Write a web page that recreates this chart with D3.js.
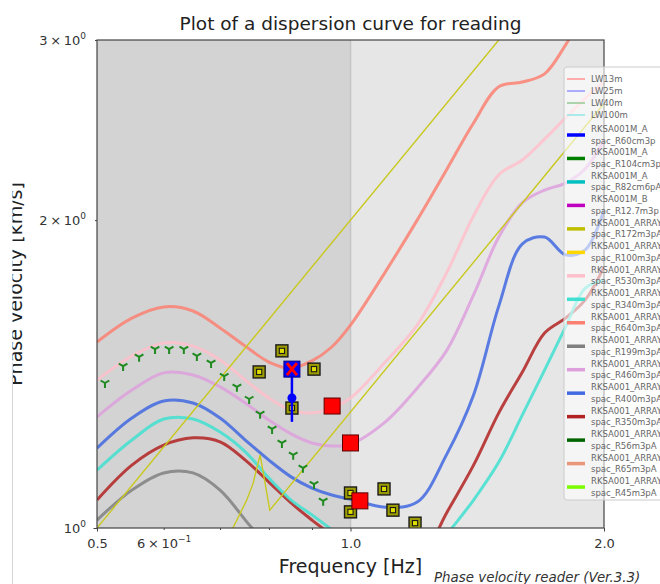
<!DOCTYPE html>
<html><head><meta charset="utf-8">
<script src="https://cdn.jsdelivr.net/npm/d3@7/dist/d3.min.js"></script>
<style>body{margin:0;background:#fff;} svg{display:block;font-family:"DejaVu Sans",sans-serif;}</style>
</head><body><svg id="c" width="660" height="584"></svg>
<script>
// ---------- data ----------
const freqs   = [0.5,0.55,0.6,0.65,0.7,0.75,0.8,0.85,0.9,0.95,1.0,1.1,1.2,1.3,1.4,1.5,1.6,1.7,1.8,1.9,2.0];
const velR640 = [1.520,1.604,1.645,1.630,1.569,1.506,1.453,1.433,1.457,1.503,1.579,1.780,2.000,2.239,2.489,2.700,2.729,2.780,2.966,3.200,3.400];
const velR530 = [1.395,1.473,1.517,1.506,1.460,1.395,1.340,1.304,1.296,1.310,1.340,1.453,1.579,1.775,2.019,2.215,2.290,2.400,2.517,2.630,2.730];
const velR460 = [1.284,1.364,1.418,1.411,1.374,1.325,1.275,1.236,1.211,1.203,1.208,1.270,1.370,1.490,1.690,1.925,2.080,2.140,2.174,2.245,2.395];
const velR400 = [1.197,1.281,1.331,1.325,1.281,1.219,1.165,1.122,1.094,1.077,1.067,1.048,1.060,1.179,1.349,1.648,1.896,1.925,1.850,1.870,2.046];
const velR340 = [1.139,1.219,1.278,1.278,1.241,1.187,1.119,1.065,1.030,0.996,0.962,0.910,0.900,0.984,1.065,1.160,1.290,1.427,1.572,1.716,1.748];
const velR350 = [1.065,1.152,1.205,1.225,1.214,1.165,1.109,1.058,1.018,0.984,0.952,0.900,0.920,1.034,1.152,1.296,1.421,1.551,1.604,1.671,1.800];
const freqR199 = [0.5,0.55,0.6,0.65,0.7,0.75,0.8,0.85];
const velR199  = [1.018,1.089,1.132,1.132,1.089,1.018,0.952,0.870];

const freqR172a = [0.5,1.5];
const velR172a  = [1.0,3.0];
const freqR172b = [0.715,0.725,0.753,0.766,0.781,0.802,2.0];
const velR172b  = [0.97,1.0,1.065,1.105,1.179,1.041,2.6];

const triFreq = [0.511,0.537,0.561,0.586,0.609,0.634,0.657,0.683,0.708,0.733,0.758,0.781,0.807,0.829,0.855,0.878,0.905,0.928];
const triVel  = [1.386,1.440,1.470,1.496,1.496,1.496,1.473,1.450,1.408,1.374,1.337,1.293,1.250,1.211,1.179,1.145,1.104,1.063];

const sqFreq = [0.829,0.779,0.905,0.852,1.0,1.0,1.096,1.123,1.193];
const sqVel  = [1.490,1.421,1.430,1.310,1.082,1.037,1.092,1.041,1.011];

const redFreq = [0.951,1.0,1.026];
const redVel  = [1.316,1.211,1.063];

const blueFreq = [0.852];
const blueVel  = [1.430];
const blueMean = [1.340];
const blueLow  = [1.270];

const legendTop = ["LW13m","LW25m","LW40m","LW100m"];
const legendTopColors = ["#ff9a9a","#9a9aff","#9acc9a","#9ae6e6"];
const legendNames = [
 ["RKSA001M_A","spac_R60cm3p"],["RKSA001M_A","spac_R104cm3p"],["RKSA001M_A","spac_R82cm6pA"],
 ["RKSA001M_B","spac_R12.7m3p"],["RKSA001_ARRAY","spac_R172m3pA"],["RKSA001_ARRAY","spac_R100m3pA"],
 ["RKSA001_ARRAY","spac_R530m3pA"],["RKSA001_ARRAY","spac_R340m3pA"],["RKSA001_ARRAY","spac_R640m3pA"],
 ["RKSA001_ARRAY","spac_R199m3pA"],["RKSA001_ARRAY","spac_R460m3pA"],["RKSA001_ARRAY","spac_R400m3pA"],
 ["RKSA001_ARRAY","spac_R350m3pA"],["RKSA001_ARRAY","spac_R56m3pA"],["RKSA001_ARRAY","spac_R65m3pA"],
 ["RKSA001_ARRAY","spac_R45m3pA"]];
const legendColors = ["#0000ff","#008000","#00bfbf","#bf00bf","#bfbf00","#ffd700","#ffc0cb","#40e0d0",
 "#fa8072","#808080","#dda0dd","#4169e1","#b22222","#006400","#e9967a","#7cfc00"];

const xMajor = [0.5,1.0,2.0], xMajorLabels = ["0.5","1.0","2.0"];
const xMinor = [0.6,0.7,0.8,0.9];
const yMajor = [1], yMinor = [2,3];

// ---------- chart ----------
const svg = d3.select("#c");
const x = d3.scaleLog().domain([0.5,2]).range([97,604]);
const y = d3.scaleLog().domain([1,3]).range([528,40]);

svg.append("defs").append("clipPath").attr("id","plot")
  .append("rect").attr("x",97).attr("y",40).attr("width",507).attr("height",488);
svg.select("defs").append("clipPath").attr("id","ylab")
  .append("rect").attr("x",12.5).attr("y",0).attr("width",660).attr("height",584);

// backgrounds
svg.append("rect").attr("x",x(0.5)).attr("y",y(3)).attr("width",x(1)-x(0.5)).attr("height",y(1)-y(3)).attr("fill","#d3d3d3");
svg.append("rect").attr("x",x(1)).attr("y",y(3)).attr("width",x(2)-x(1)).attr("height",y(1)-y(3)).attr("fill","#e6e6e6");
svg.append("line").attr("x1",x(1)).attr("x2",x(1)).attr("y1",y(3)).attr("y2",y(1)).attr("stroke","#c4c4c4").attr("stroke-width",1.5);

const g = svg.append("g").attr("clip-path","url(#plot)");
const line = d3.line().x(d=>x(d[0])).y(d=>y(d[1])).curve(d3.curveCatmullRom.alpha(0.5));
const straight = d3.line().x(d=>x(d[0])).y(d=>y(d[1]));

const curves = [
  [freqR199, velR199, "#808080"],
  [freqs, velR350, "#b22222"],
  [freqs, velR340, "#40e0d0"],
  [freqs, velR400, "#4169e1"],
  [freqs, velR460, "#dda0dd"],
  [freqs, velR530, "#ffc0cb"],
  [freqs, velR640, "#fa8072"]
];
curves.forEach(([f,v,c])=>{
  g.append("path").datum(f.map((ff,i)=>[ff,v[i]])).attr("d",line)
   .attr("fill","none").attr("stroke",c).attr("stroke-width",3).attr("stroke-opacity",0.85);
});
[[freqR172a,velR172a],[freqR172b,velR172b]].forEach(([f,v])=>{
  g.append("path").datum(f.map((ff,i)=>[ff,v[i]])).attr("d",straight)
   .attr("fill","none").attr("stroke","#c8c81e").attr("stroke-width",1.4);
});

// tri_down markers
const r = 5;
const triPath = `M0,0L0,${r}M0,0L${-0.866*r},${-0.5*r}M0,0L${0.866*r},${-0.5*r}`;
g.selectAll(".tri").data(triFreq.map((f,i)=>[f,triVel[i]])).enter().append("path")
  .attr("transform",d=>`translate(${x(d[0])},${y(d[1])})`).attr("d",triPath)
  .attr("stroke","#1f8a1f").attr("stroke-width",2).attr("fill","none");

// olive squares
const sq = g.selectAll(".sq").data(sqFreq.map((f,i)=>[f,sqVel[i]])).enter().append("g")
  .attr("transform",d=>`translate(${x(d[0])},${y(d[1])})`);
sq.append("rect").attr("x",-6).attr("y",-6).attr("width",12).attr("height",12)
  .attr("fill","#9c9c00").attr("stroke","#1a1a1a").attr("stroke-width",1.4);
sq.append("rect").attr("x",-2.6).attr("y",-2.6).attr("width",5.2).attr("height",5.2)
  .attr("fill","#e0e000").attr("stroke","#1a1a1a").attr("stroke-width",1.1);

// red squares
g.selectAll(".red").data(redFreq.map((f,i)=>[f,redVel[i]])).enter().append("rect")
  .attr("x",d=>x(d[0])-8).attr("y",d=>y(d[1])-8).attr("width",16).attr("height",16)
  .attr("fill","#ff0000").attr("stroke","#5a0000").attr("stroke-width",1);

// blue marker with error bar
blueFreq.forEach((f,i)=>{
  const cx = x(f);
  g.append("line").attr("x1",cx).attr("x2",cx).attr("y1",y(blueVel[i])).attr("y2",y(blueLow[i]))
   .attr("stroke","#0000ff").attr("stroke-width",2.5);
  g.append("circle").attr("cx",cx).attr("cy",y(blueMean[i])).attr("r",4.5).attr("fill","#0000ff");
  g.append("rect").attr("x",cx-8).attr("y",y(blueVel[i])-8).attr("width",16).attr("height",16)
   .attr("fill","#0000ff").attr("stroke","#00008a").attr("stroke-width",1);
  const cy = y(blueVel[i]);
  g.append("path").attr("d",`M${cx-5},${cy-6}L${cx+5},${cy+6}M${cx+5},${cy-6}L${cx-5},${cy+6}`)
   .attr("stroke","#ff0000").attr("stroke-width",3);
});

// spines
svg.append("rect").attr("x",97).attr("y",40).attr("width",507).attr("height",488)
  .attr("fill","none").attr("stroke","#444").attr("stroke-width",1.2);

// axes
function styleAxis(sel){ sel.select(".domain").remove(); sel.selectAll("line").attr("stroke","#444");
  sel.selectAll("text").attr("fill","#333").style("font-size","13px").style("font-family","DejaVu Sans"); }
const xa = svg.append("g").attr("transform","translate(0,528)")
  .call(d3.axisBottom(x).tickValues(xMajor).tickSize(3.5).tickFormat((d,i)=>xMajorLabels[i]));
styleAxis(xa); xa.selectAll("text").attr("y",20).attr("dy",0);
const xm = svg.append("g").attr("transform","translate(0,528)")
  .call(d3.axisBottom(x).tickValues(xMinor).tickSize(2).tickFormat(d=>d===0.6?"6":""));
styleAxis(xm); xm.selectAll("text").attr("y",20).attr("dy",0);
xm.selectAll("text").filter(d=>d===0.6).each(function(){
  const t=d3.select(this); t.text("");
  t.append("tspan").text("6\u2009×\u200910");
  t.append("tspan").attr("dy",-6).style("font-size","9px").text("\u22121");
});
function yLabel(sel){
  sel.selectAll("text").attr("x",-11).attr("dy","0.35em").each(function(d){
    const t=d3.select(this); t.text("");
    t.append("tspan").text((d===1?"":d+"\u2009×\u2009")+"10");
    t.append("tspan").attr("dy",-6).style("font-size","9px").text("0");
  });
}
const ya = svg.append("g").attr("transform","translate(97,0)").call(d3.axisLeft(y).tickValues(yMajor).tickSize(3.5));
styleAxis(ya); yLabel(ya);
const ym = svg.append("g").attr("transform","translate(97,0)").call(d3.axisLeft(y).tickValues(yMinor).tickSize(2));
styleAxis(ym); yLabel(ym);

// titles
svg.append("text").attr("x",350.5).attr("y",30).attr("text-anchor","middle").attr("fill","#222")
  .style("font-size","18.5px").text("Plot of a dispersion curve for reading");
svg.append("text").attr("x",350.5).attr("y",573).attr("text-anchor","middle").attr("fill","#222")
  .style("font-size","19px").text("Frequency [Hz]");
svg.append("g").attr("clip-path","url(#ylab)").append("text")
  .attr("transform","translate(22,284) rotate(-90)").attr("text-anchor","middle").attr("fill","#222")
  .style("font-size","19px").text("Phase velocity [km/s]");
svg.append("text").attr("x",434).attr("y",582).attr("fill","#333").style("font-style","italic")
  .style("font-size","13.4px").text("Phase velocity reader (Ver.3.3)");
svg.append("line").attr("x1",12.5).attr("x2",12.5).attr("y1",363).attr("y2",584).attr("stroke","#d4d4d4");

// legend
const lg = svg.append("g").style("font-size","8.5px");
lg.append("rect").attr("x",564).attr("y",67).attr("width",110).attr("height",433).attr("rx",3)
  .attr("fill","#ffffff").attr("fill-opacity",0.6).attr("stroke","#cccccc");
legendTop.forEach((name,i)=>{
  const yy = 79 + i*12;
  lg.append("line").attr("x1",567).attr("x2",585).attr("y1",yy).attr("y2",yy)
    .attr("stroke",legendTopColors[i]).attr("stroke-width",1.6);
  lg.append("text").attr("x",591).attr("y",yy+3).attr("fill","#666").text(name);
});
legendNames.forEach((nm,i)=>{
  const yy = 135 + i*23.47;
  lg.append("line").attr("x1",567).attr("x2",585).attr("y1",yy).attr("y2",yy)
    .attr("stroke",legendColors[i]).attr("stroke-width",3.5);
  lg.append("text").attr("x",591).attr("y",yy-3).attr("fill","#666").text(nm[0]);
  lg.append("text").attr("x",591).attr("y",yy+8.5).attr("fill","#666").text(nm[1]);
});
</script></body></html>
